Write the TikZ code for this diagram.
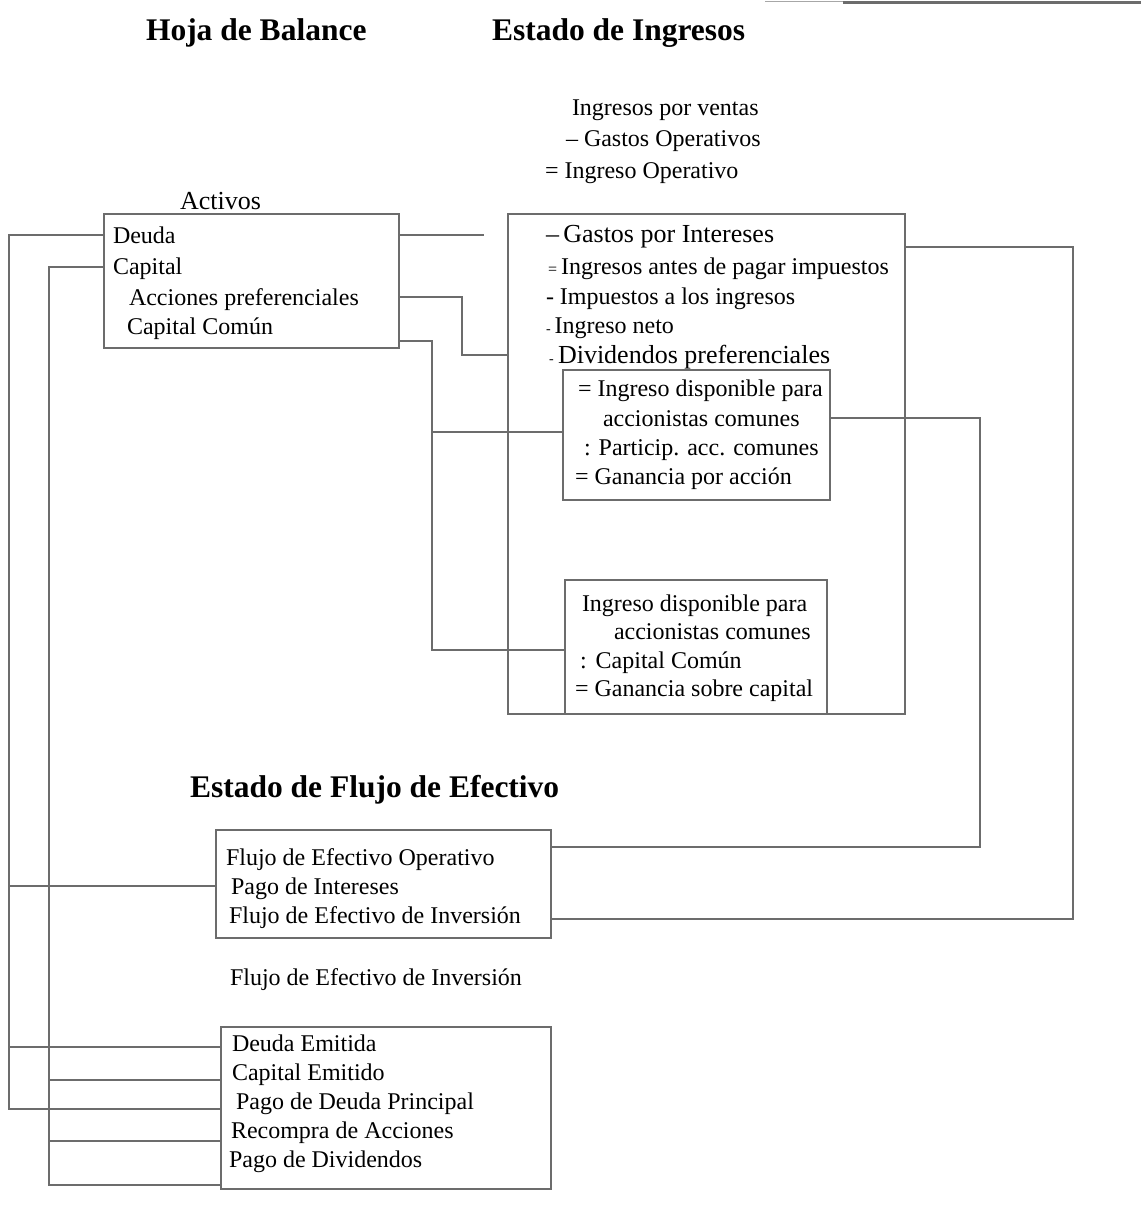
\documentclass[tikz,border=0pt]{standalone}
\usepackage{fontspec}
\setmainfont{Liberation Serif}
\usetikzlibrary{calc}
\definecolor{ln}{RGB}{108,108,108}
\begin{document}
\begin{tikzpicture}[x=1pt,y=-1pt,
  conn/.style={draw=ln, line width=2.9pt, line join=miter},
  box/.style={draw=ln, line width=2.9pt, inner sep=0pt, outer sep=0pt, anchor=north west},
  txt/.style={anchor=base west, inner sep=0pt, outer sep=0pt, font=\fontsize{24}{28}\selectfont},
  big/.style={txt, font=\fontsize{26}{30}\selectfont},
  head/.style={anchor=base west, inner sep=0pt, outer sep=0pt, font=\fontsize{31.5}{36}\selectfont\bfseries}]
\useasboundingbox (0,0) rectangle (1141,1221);
% scan edge line at top right
\draw[ln!60, line width=1.5pt] (765,1.5) -- (843,1.5);
\draw[ln, line width=3pt] (843,2) -- (1141,2);

% headings
\node[head] (hbal) at (146,40) {Hoja de Balance};
\node[head] (hing) at (492,40) {Estado de Ingresos};
\node[head] (hflu) at (190,797) {Estado de Flujo de Efectivo};

% boxes
\node[box, minimum width=295pt, minimum height=134pt] (act) at (104,214) {};
\node[box, minimum width=397pt, minimum height=500pt] (inc) at (508,214) {};
\node[box, minimum width=267pt, minimum height=130pt] (ib1) at (563,370) {};
\node[box, minimum width=262pt, minimum height=134pt] (ib2) at (565,580) {};
\node[box, minimum width=335pt, minimum height=108pt] (cf1) at (216,830) {};
\node[box, minimum width=330pt, minimum height=162pt] (cf2) at (221,1027) {};

% income statement top lines
\node[txt] (iv) at (572,115) {Ingresos por ventas};
\node[txt] (go) at (566,146) {\textendash\ Gastos Operativos};
\node[txt] (io) at (545,178) {= Ingreso Operativo};

% balance sheet
\node[big] (activos) at (180,209) {Activos};
\node[txt] (deuda) at (113,243) {Deuda};
\node[txt] (capital) at (113,274) {Capital};
\node[txt] (accpref) at (129,305) {Acciones preferenciales};
\node[txt] (capcom) at (127,334) {Capital Común};

% income box
\node[big] (gi) at (546,242) {\textendash\,Gastos por Intereses};
\node[txt] (iap) at (548,274) {{\fontsize{16}{16}\selectfont =}\,Ingresos antes de pagar impuestos};
\node[txt] (imp) at (546,304) {- Impuestos a los ingresos};
\node[txt] (ineto) at (546,333) {{\fontsize{14}{14}\selectfont -}\,Ingreso neto};
\node[big] (divp) at (549,363) {{\fontsize{14}{14}\selectfont -}\,Dividendos preferenciales};

% inner box 1
\node[txt] (a1) at (578,396) {= Ingreso disponible para};
\node[txt] (a2) at (603,426) {accionistas comunes};
\node[txt] (a3) at (584,455) {: Particip. acc. comunes};
\node[txt] (a4) at (575,484) {= Ganancia por acción};

% inner box 2
\node[txt] (b1) at (582,611) {Ingreso disponible para};
\node[txt] (b2) at (614,639) {accionistas comunes};
\node[txt] (b3) at (580,668) {:\hspace{9pt}Capital Común};
\node[txt] (b4) at (575,696) {= Ganancia sobre capital};

% cash flow box 1
\node[txt] (c1) at (226,865) {Flujo de Efectivo Operativo};
\node[txt] (c2) at (231,894) {Pago de Intereses};
\node[txt] (c3) at (229,923) {Flujo de Efectivo de Inversión};

\node[txt] (finv) at (230,985) {Flujo de Efectivo de Inversión};

% cash flow box 2
\node[txt] (d1) at (232,1051) {Deuda Emitida};
\node[txt] (d2) at (232,1080) {Capital Emitido};
\node[txt] (d3) at (236,1109) {Pago de Deuda Principal};
\node[txt] (d4) at (231,1138) {Recompra de Acciones};
\node[txt] (d5) at (229,1167) {Pago de Dividendos};

% connectors
\coordinate (dEnd) at (484,235);
\draw[conn] ([yshift=-21pt]act.north east) -- (dEnd);

% left outer line (Deuda)
\draw[conn] ([yshift=-21pt]act.north west) -| (9,1109) -- ([yshift=-82pt]cf2.north west);
\draw[conn] (9,886) -- ([yshift=-56pt]cf1.north west);
\draw[conn] (9,1047) -- ([yshift=-20pt]cf2.north west);

% left inner line (Capital)
\draw[conn] ([yshift=-53pt]act.north west) -| (49,1185) -- ([yshift=-158pt]cf2.north west);
\draw[conn] (49,1080) -- ([yshift=-53pt]cf2.north west);
\draw[conn] (49,1141) -- ([yshift=-114pt]cf2.north west);

% Acciones preferenciales -> Dividendos preferenciales
\draw[conn] ([yshift=-83pt]act.north east) -| (462,355) -- ([yshift=-141pt]inc.north west);

% Capital Comun -> inner boxes
\draw[conn] ([yshift=-127pt]act.north east) -| (432,650) -- ([yshift=-70pt]ib2.north west);
\draw[conn] (432,432) -- ([yshift=-62pt]ib1.north west);

% right connectors
\draw[conn] ([yshift=-33pt]inc.north east) -| (1073,919) -- ([yshift=-89pt]cf1.north east);
\draw[conn] ([yshift=-48pt]ib1.north east) -| (980,847) -- ([yshift=-17pt]cf1.north east);
\end{tikzpicture}
\end{document}
